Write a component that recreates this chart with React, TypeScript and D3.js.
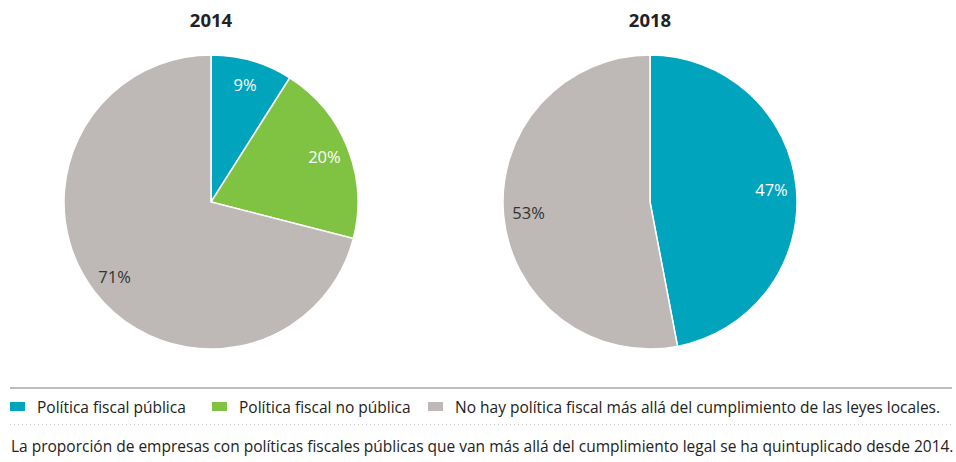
import { useRef, useEffect } from 'react';
import * as d3 from 'd3';

const categories = [
  'Política fiscal pública',
  'Política fiscal no pública',
  'No hay política fiscal más allá del cumplimiento de las leyes locales.',
];
const colors = ['#00a4bd', '#80c342', '#beb8b6'];
const labelColors = ['#ffffff', '#ffffff', '#333333'];
const years = ['2014', '2018'];
const values2014 = [9, 20, 71];
const values2018 = [47, 0, 53];
const caption =
  'La proporción de empresas con políticas fiscales públicas que van más allá del cumplimiento legal se ha quintuplicado desde 2014.';

export default function App() {
  const svgRef = useRef<SVGSVGElement>(null);
  const width = 956;
  const height = 462;

  useEffect(() => {
    const svg = d3.select(svgRef.current);
    svg.selectAll('*').remove();
    const font = '"Open Sans", sans-serif';

    const radius = 147;
    const centers = [211, 650];
    const cy = 202;
    const pie = d3.pie<number>().sort(null).value((d) => d);
    const arc = d3.arc<d3.PieArcDatum<number>>().innerRadius(0).outerRadius(radius);
    const labelArc = d3.arc<d3.PieArcDatum<number>>().innerRadius(122).outerRadius(122);

    [values2014, values2018].forEach((vals, k) => {
      const g = svg.append('g').attr('transform', `translate(${centers[k]},${cy})`);
      const arcs = pie(vals).map((d, i) => ({ ...d, idx: i })).filter((d) => d.value > 0);

      g.selectAll('path')
        .data(arcs)
        .join('path')
        .attr('d', (d) => arc(d) as string)
        .attr('fill', (d) => colors[d.idx])
        .attr('stroke', '#fff')
        .attr('stroke-width', 1.5);

      g.selectAll('text.lbl')
        .data(arcs)
        .join('text')
        .attr('class', 'lbl')
        .attr('transform', (d) => `translate(${labelArc.centroid(d)})`)
        .attr('text-anchor', 'middle')
        .attr('dy', '0.35em')
        .attr('fill', (d) => labelColors[d.idx])
        .style('font-family', font)
        .style('font-size', '16.5px')
        .text((d) => `${d.value}%`);

      svg
        .append('text')
        .attr('x', centers[k])
        .attr('y', 27)
        .attr('text-anchor', 'middle')
        .attr('fill', '#222')
        .style('font-family', font)
        .style('font-weight', 'bold')
        .style('font-size', '18.5px')
        .text(years[k]);
    });

    // separators
    svg
      .append('line')
      .attr('x1', 10)
      .attr('x2', 952)
      .attr('y1', 388)
      .attr('y2', 388)
      .attr('stroke', '#bdbdbd')
      .attr('stroke-width', 2);

    svg
      .append('line')
      .attr('x1', 10)
      .attr('x2', 952)
      .attr('y1', 424.5)
      .attr('y2', 424.5)
      .attr('stroke', '#c8c8c8')
      .attr('stroke-width', 1)
      .attr('stroke-dasharray', '1,3');

    // legend
    const legendX = [10, 212, 428];
    const legend = svg
      .selectAll('g.legend')
      .data(categories)
      .join('g')
      .attr('class', 'legend')
      .attr('transform', (_, i) => `translate(${legendX[i]},402)`);

    legend
      .append('rect')
      .attr('width', 15)
      .attr('height', 9)
      .attr('fill', (_, i) => colors[i]);

    legend
      .append('text')
      .attr('x', 27)
      .attr('y', 11)
      .attr('fill', '#222')
      .style('font-family', font)
      .style('font-size', '15.5px')
      .text((d) => d);

    svg
      .append('text')
      .attr('x', 11)
      .attr('y', 452)
      .attr('fill', '#222')
      .style('font-family', font)
      .style('font-size', '15.5px')
      .text(caption);
  }, []);

  return (
    <svg
      ref={svgRef}
      width={width}
      height={height}
      style={{ position: 'absolute', left: 0, top: 0, background: '#fff' }}
    ></svg>
  );
}
